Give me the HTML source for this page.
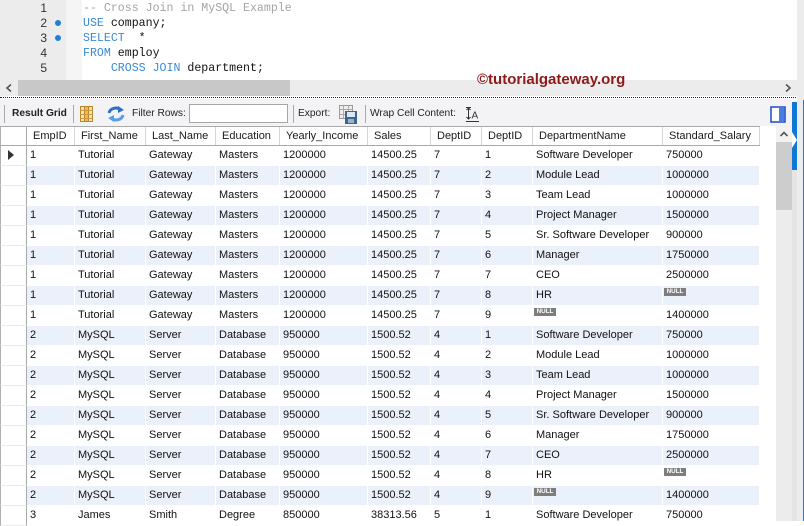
<!DOCTYPE html>
<html><head><meta charset="utf-8">
<style>
*{box-sizing:border-box}
body{margin:0;width:804px;height:521px;overflow:hidden;background:#fff;font-family:"Liberation Sans",Arial,sans-serif;position:relative;color:#1a1a1a}
.a{position:absolute}
.ln{position:absolute;left:0;width:47px;text-align:right;font-size:12px;color:#333;line-height:15px}
.code{position:absolute;left:83px;font-family:"Liberation Mono",monospace;font-size:11.6px;line-height:15px;white-space:pre;color:#111}
.kw{color:#3a8ad6}
.cm{color:#a4a4a4}
.dot{position:absolute;left:55px;width:6px;height:6px;border-radius:50%;background:#1f80d8}
.tb{position:absolute;top:107px;line-height:14px;font-size:10.2px;color:#222;white-space:nowrap}
.sep{position:absolute;top:105px;width:1px;height:18px;background:#aaa}
.row{position:absolute;left:27px;height:20px;display:flex;font-size:11px;line-height:18px;white-space:nowrap;color:#111}
.row span{position:relative;display:block;height:20px;padding-left:3px;border-right:1px solid #fff;overflow:visible}
.row.b span{background:#eaf1fb;border-bottom:1px solid #fff}
.hd{position:absolute;left:27px;top:126px;height:20px;display:flex;font-size:11px;line-height:18px;white-space:nowrap;border-top:1px solid #a9a9a9;border-bottom:1px solid #a9a9a9}
.hd span{display:block;height:18px;padding-left:6px;border-right:1px solid #d6d6d6}
.w1{width:48px}.w2{width:71px}.w3{width:70px}.w4{width:64px}.w5{width:88px}.w6{width:63px}.w7{width:51px}.w8{width:51px}.w9{width:130px}.w10{width:97px}
.nl{position:absolute;left:1px;top:2px;width:22px;height:8px;background:#7d7d7d;color:#fff;font-size:6.3px;font-weight:bold;line-height:8px;text-align:center;font-style:normal;letter-spacing:0}
.rh{position:absolute;left:0;width:27px;height:20px;border-left:1px solid #b0b0b0;border-right:1px solid #a9a9a9;border-bottom:1px solid #ebebeb}
</style></head><body>

<!-- editor -->
<div class="a" style="left:0;top:0;width:66px;height:80px;background:#ececec"></div>
<div class="a" style="left:66px;top:0;width:16px;height:80px;background:#f5f5f5"></div>
<div class="ln" style="top:0.5px">1</div>
<div class="ln" style="top:15.5px">2</div>
<div class="ln" style="top:30.5px">3</div>
<div class="ln" style="top:45.5px">4</div>
<div class="ln" style="top:60.5px">5</div>
<div class="dot" style="top:20px"></div>
<div class="dot" style="top:35px"></div>
<div class="code" style="top:0.5px"><span class="cm">-- Cross Join in MySQL Example</span></div>
<div class="code" style="top:15.5px"><span class="kw">USE</span> company;</div>
<div class="code" style="top:30.5px"><span class="kw">SELECT</span>  *</div>
<div class="code" style="top:45.5px"><span class="kw">FROM</span> employ</div>
<div class="code" style="top:60.5px">    <span class="kw">CROSS JOIN</span> department;</div>

<!-- right gray column -->
<div class="a" style="left:797px;top:0;width:7px;height:521px;background:#ececec"></div>
<div class="a" style="left:803px;top:100px;width:1px;height:421px;background:#1a78d0"></div>

<!-- h scrollbar -->
<div class="a" style="left:0;top:80px;width:797px;height:16px;background:#ececec"></div>
<div class="a" style="left:18px;top:80px;width:272px;height:16px;background:#c8c8c8"></div>
<svg class="a" style="left:0;top:80px" width="797" height="16"><polyline points="11,4.5 7,8 11,11.5" fill="none" stroke="#555" stroke-width="1.6"/><polyline points="786,4.5 790,8 786,11.5" fill="none" stroke="#555" stroke-width="1.6"/></svg>
<div class="a" style="left:477px;top:70px;font-size:15px;font-weight:bold;color:#8e1a1a;line-height:20px;white-space:nowrap">©tutorialgateway.org</div>

<!-- dotted line -->
<div class="a" style="left:0;top:97px;width:796px;height:0;border-top:1px dotted #222"></div>

<!-- toolbar -->
<div class="a" style="left:0;top:99px;width:792px;height:27px;background:#f3f3f5"></div>
<div class="sep" style="left:4px"></div>
<div class="tb" style="left:12px;font-weight:bold">Result Grid</div>
<div class="sep" style="left:73px"></div>
<svg class="a" style="left:79px;top:105px" width="16" height="18">
<rect x="1.5" y="1.5" width="12" height="15" fill="#fde3a4" stroke="#b9862e"/>
<rect x="5.5" y="1.5" width="4" height="15" fill="#f6b648" stroke="#b9862e"/>
<line x1="1.5" y1="5.5" x2="13.5" y2="5.5" stroke="#c99a48"/><line x1="1.5" y1="9.5" x2="13.5" y2="9.5" stroke="#c99a48"/><line x1="1.5" y1="13.5" x2="13.5" y2="13.5" stroke="#c99a48"/>
</svg>
<svg class="a" style="left:106px;top:105px" width="20" height="18">
<path d="M3 8 A7 6 0 0 1 15 5" fill="none" stroke="#2d6fc6" stroke-width="3"/>
<polygon points="12,1 18,5 12,8" fill="#2d6fc6"/>
<path d="M17 10 A7 6 0 0 1 5 13" fill="none" stroke="#5a9fe6" stroke-width="3"/>
<polygon points="8,17 2,13 8,10" fill="#5a9fe6"/>
</svg>
<div class="tb" style="left:132px">Filter Rows:</div>
<div class="a" style="left:189px;top:104px;width:99px;height:19px;background:#fff;border:1px solid #a6a6a6"></div>
<div class="sep" style="left:293px"></div>
<div class="tb" style="left:298px">Export:</div>
<svg class="a" style="left:338px;top:104px" width="20" height="21">
<rect x="1.5" y="1.5" width="13" height="13" fill="#eee" stroke="#9a9a9a"/>
<line x1="5.5" y1="1.5" x2="5.5" y2="14.5" stroke="#aaa"/><line x1="10.5" y1="1.5" x2="10.5" y2="14.5" stroke="#aaa"/>
<line x1="1.5" y1="5.5" x2="14.5" y2="5.5" stroke="#aaa"/><line x1="1.5" y1="10.5" x2="14.5" y2="10.5" stroke="#aaa"/>
<rect x="7" y="7" width="12" height="13" fill="#3a6690"/>
<rect x="9" y="8" width="8" height="5" fill="#dfe8f2"/>
<rect x="10" y="15" width="6" height="4" fill="#9bb3cc"/>
</svg>
<div class="sep" style="left:365px"></div>
<div class="tb" style="left:370px">Wrap Cell Content:</div>
<svg class="a" style="left:465px;top:106px" width="15" height="17">
<line x1="3.5" y1="2" x2="3.5" y2="13" stroke="#333"/>
<polyline points="1.5,4 3.5,2 5.5,4" fill="none" stroke="#333"/>
<polyline points="1.5,11 3.5,13 5.5,11" fill="none" stroke="#333"/>
<line x1="1" y1="1.5" x2="6" y2="1.5" stroke="#333"/>
<text x="6.5" y="12.5" font-size="10" font-family="Liberation Sans, sans-serif" fill="#333">A</text>
<line x1="1" y1="15.5" x2="14" y2="15.5" stroke="#333"/>
</svg>
<svg class="a" style="left:770px;top:106px" width="17" height="17">
<rect x="1" y="1" width="14" height="15" fill="#fff" stroke="#2d55c8" stroke-width="1.6"/>
<rect x="9" y="2" width="5.5" height="13" fill="#4c7ee0"/>
</svg>
<div class="a" style="left:792px;top:102px;width:5px;height:68px;background:#0f78d4"></div>
<svg class="a" style="left:792px;top:132px" width="5" height="16"><polygon points="0,0 5,8 0,16" fill="#fff"/></svg>

<!-- v scrollbar -->
<div class="a" style="left:776px;top:126px;width:16px;height:395px;background:#ececec"></div>
<div class="a" style="left:776px;top:126px;width:16px;height:16px;background:#f2f2f2"></div>
<svg class="a" style="left:776px;top:126px" width="16" height="16"><polyline points="4.5,10 8,6.5 11.5,10" fill="none" stroke="#555" stroke-width="1.6"/></svg>
<div class="a" style="left:776px;top:142px;width:16px;height:68px;background:#cdcdcd"></div>
<div class="a" style="left:792px;top:170px;width:5px;height:351px;background:#e5e5e5"></div>

<!-- row header column -->
<div class="rh" style="top:126px;border-top:1px solid #a9a9a9;border-bottom:1px solid #a9a9a9"></div>
<div class="rh" style="top:146px"></div><div class="rh" style="top:166px"></div><div class="rh" style="top:186px"></div><div class="rh" style="top:206px"></div><div class="rh" style="top:226px"></div><div class="rh" style="top:246px"></div><div class="rh" style="top:266px"></div><div class="rh" style="top:286px"></div><div class="rh" style="top:306px"></div><div class="rh" style="top:326px"></div><div class="rh" style="top:346px"></div><div class="rh" style="top:366px"></div><div class="rh" style="top:386px"></div><div class="rh" style="top:406px"></div><div class="rh" style="top:426px"></div><div class="rh" style="top:446px"></div><div class="rh" style="top:466px"></div><div class="rh" style="top:486px"></div><div class="rh" style="top:506px"></div>
<div class="a" style="left:8px;top:150px;width:0;height:0;border-left:6px solid #333;border-top:5px solid transparent;border-bottom:5px solid transparent"></div>

<!-- header -->
<div class="hd"><span class="w1">EmpID</span><span class="w2">First_Name</span><span class="w3">Last_Name</span><span class="w4">Education</span><span class="w5">Yearly_Income</span><span class="w6">Sales</span><span class="w7">DeptID</span><span class="w8">DeptID</span><span class="w9">DepartmentName</span><span class="w10">Standard_Salary</span></div>

<!-- rows -->
<div class="row" style="top:146px"><span class="w1">1</span><span class="w2">Tutorial</span><span class="w3">Gateway</span><span class="w4">Masters</span><span class="w5">1200000</span><span class="w6">14500.25</span><span class="w7">7</span><span class="w8">1</span><span class="w9">Software Developer</span><span class="w10">750000</span></div>
<div class="row b" style="top:166px"><span class="w1">1</span><span class="w2">Tutorial</span><span class="w3">Gateway</span><span class="w4">Masters</span><span class="w5">1200000</span><span class="w6">14500.25</span><span class="w7">7</span><span class="w8">2</span><span class="w9">Module Lead</span><span class="w10">1000000</span></div>
<div class="row" style="top:186px"><span class="w1">1</span><span class="w2">Tutorial</span><span class="w3">Gateway</span><span class="w4">Masters</span><span class="w5">1200000</span><span class="w6">14500.25</span><span class="w7">7</span><span class="w8">3</span><span class="w9">Team Lead</span><span class="w10">1000000</span></div>
<div class="row b" style="top:206px"><span class="w1">1</span><span class="w2">Tutorial</span><span class="w3">Gateway</span><span class="w4">Masters</span><span class="w5">1200000</span><span class="w6">14500.25</span><span class="w7">7</span><span class="w8">4</span><span class="w9">Project Manager</span><span class="w10">1500000</span></div>
<div class="row" style="top:226px"><span class="w1">1</span><span class="w2">Tutorial</span><span class="w3">Gateway</span><span class="w4">Masters</span><span class="w5">1200000</span><span class="w6">14500.25</span><span class="w7">7</span><span class="w8">5</span><span class="w9">Sr. Software Developer</span><span class="w10">900000</span></div>
<div class="row b" style="top:246px"><span class="w1">1</span><span class="w2">Tutorial</span><span class="w3">Gateway</span><span class="w4">Masters</span><span class="w5">1200000</span><span class="w6">14500.25</span><span class="w7">7</span><span class="w8">6</span><span class="w9">Manager</span><span class="w10">1750000</span></div>
<div class="row" style="top:266px"><span class="w1">1</span><span class="w2">Tutorial</span><span class="w3">Gateway</span><span class="w4">Masters</span><span class="w5">1200000</span><span class="w6">14500.25</span><span class="w7">7</span><span class="w8">7</span><span class="w9">CEO</span><span class="w10">2500000</span></div>
<div class="row b" style="top:286px"><span class="w1">1</span><span class="w2">Tutorial</span><span class="w3">Gateway</span><span class="w4">Masters</span><span class="w5">1200000</span><span class="w6">14500.25</span><span class="w7">7</span><span class="w8">8</span><span class="w9">HR</span><span class="w10"><i class="nl">NULL</i></span></div>
<div class="row" style="top:306px"><span class="w1">1</span><span class="w2">Tutorial</span><span class="w3">Gateway</span><span class="w4">Masters</span><span class="w5">1200000</span><span class="w6">14500.25</span><span class="w7">7</span><span class="w8">9</span><span class="w9"><i class="nl">NULL</i></span><span class="w10">1400000</span></div>
<div class="row b" style="top:326px"><span class="w1">2</span><span class="w2">MySQL</span><span class="w3">Server</span><span class="w4">Database</span><span class="w5">950000</span><span class="w6">1500.52</span><span class="w7">4</span><span class="w8">1</span><span class="w9">Software Developer</span><span class="w10">750000</span></div>
<div class="row" style="top:346px"><span class="w1">2</span><span class="w2">MySQL</span><span class="w3">Server</span><span class="w4">Database</span><span class="w5">950000</span><span class="w6">1500.52</span><span class="w7">4</span><span class="w8">2</span><span class="w9">Module Lead</span><span class="w10">1000000</span></div>
<div class="row b" style="top:366px"><span class="w1">2</span><span class="w2">MySQL</span><span class="w3">Server</span><span class="w4">Database</span><span class="w5">950000</span><span class="w6">1500.52</span><span class="w7">4</span><span class="w8">3</span><span class="w9">Team Lead</span><span class="w10">1000000</span></div>
<div class="row" style="top:386px"><span class="w1">2</span><span class="w2">MySQL</span><span class="w3">Server</span><span class="w4">Database</span><span class="w5">950000</span><span class="w6">1500.52</span><span class="w7">4</span><span class="w8">4</span><span class="w9">Project Manager</span><span class="w10">1500000</span></div>
<div class="row b" style="top:406px"><span class="w1">2</span><span class="w2">MySQL</span><span class="w3">Server</span><span class="w4">Database</span><span class="w5">950000</span><span class="w6">1500.52</span><span class="w7">4</span><span class="w8">5</span><span class="w9">Sr. Software Developer</span><span class="w10">900000</span></div>
<div class="row" style="top:426px"><span class="w1">2</span><span class="w2">MySQL</span><span class="w3">Server</span><span class="w4">Database</span><span class="w5">950000</span><span class="w6">1500.52</span><span class="w7">4</span><span class="w8">6</span><span class="w9">Manager</span><span class="w10">1750000</span></div>
<div class="row b" style="top:446px"><span class="w1">2</span><span class="w2">MySQL</span><span class="w3">Server</span><span class="w4">Database</span><span class="w5">950000</span><span class="w6">1500.52</span><span class="w7">4</span><span class="w8">7</span><span class="w9">CEO</span><span class="w10">2500000</span></div>
<div class="row" style="top:466px"><span class="w1">2</span><span class="w2">MySQL</span><span class="w3">Server</span><span class="w4">Database</span><span class="w5">950000</span><span class="w6">1500.52</span><span class="w7">4</span><span class="w8">8</span><span class="w9">HR</span><span class="w10"><i class="nl">NULL</i></span></div>
<div class="row b" style="top:486px"><span class="w1">2</span><span class="w2">MySQL</span><span class="w3">Server</span><span class="w4">Database</span><span class="w5">950000</span><span class="w6">1500.52</span><span class="w7">4</span><span class="w8">9</span><span class="w9"><i class="nl">NULL</i></span><span class="w10">1400000</span></div>
<div class="row" style="top:506px"><span class="w1">3</span><span class="w2">James</span><span class="w3">Smith</span><span class="w4">Degree</span><span class="w5">850000</span><span class="w6">38313.56</span><span class="w7">5</span><span class="w8">1</span><span class="w9">Software Developer</span><span class="w10">750000</span></div>

</body></html>
